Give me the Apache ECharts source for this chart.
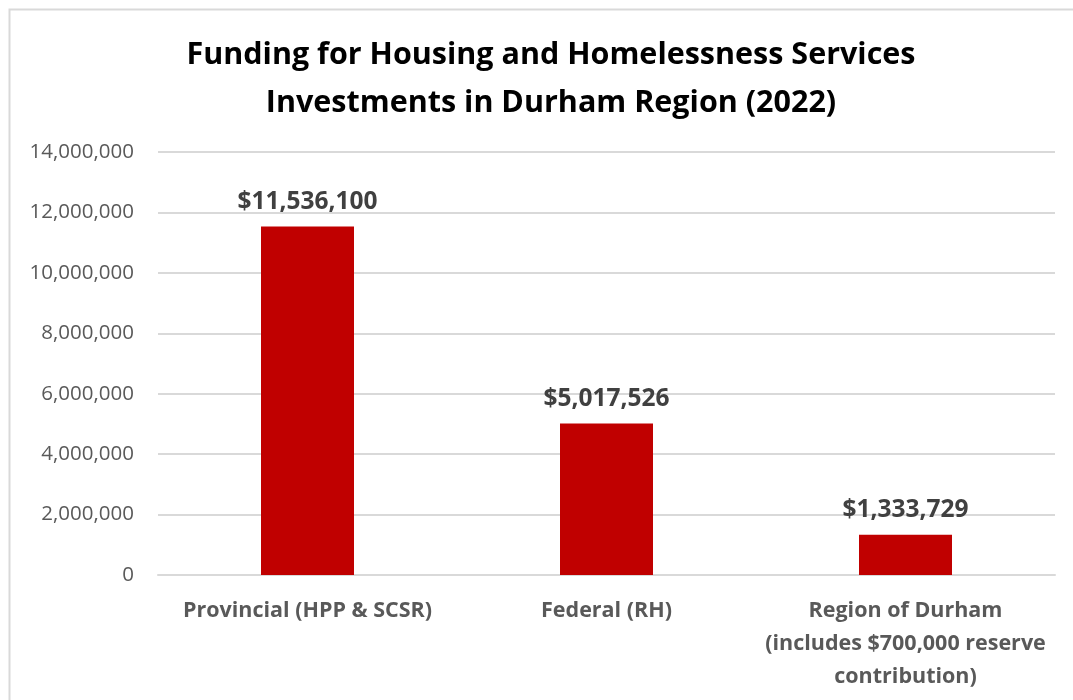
<!DOCTYPE html>
<html><head><meta charset="utf-8">
<script src="https://cdn.jsdelivr.net/npm/echarts@6/dist/echarts.min.js"></script>
<style>html,body{margin:0;padding:0;background:#fff}#c{width:1073px;height:700px}</style>
</head><body><div id="c"></div>
<script>
const categories = ['Provincial (HPP & SCSR)', 'Federal (RH)', 'Region of Durham\n(includes $700,000 reserve\ncontribution)'];
const values = [11536100, 5017526, 1333729];
const yTicks = { min: 0, max: 14000000, interval: 2000000 };
const titleText = 'Funding for Housing and Homelessness Services\nInvestments in Durham Region (2022)';

const fmt = v => v.toLocaleString('en-US');
const chart = echarts.init(document.getElementById('c'));
chart.setOption({
  animation: false,
  backgroundColor: '#fff',
  graphic: [{ type: 'rect', shape: { x: 9.5, y: 9.5, width: 1080, height: 720 }, style: { fill: 'none', stroke: '#d9d9d9', lineWidth: 2 } }],
  title: {
    text: titleText, left: 546, top: 26, textAlign: 'center',
    textStyle: { fontFamily: 'Open Sans', fontWeight: 'bold', fontSize: 30.5, color: '#000', lineHeight: 48 }
  },
  grid: { left: 158, right: 18, top: 152, bottom: 125 },
  xAxis: {
    type: 'category', data: categories,
    axisLine: { lineStyle: { color: '#d9d9d9', width: 2 } },
    axisTick: { show: false },
    axisLabel: { interval: 0, margin: 19, fontFamily: 'Open Sans', fontWeight: 'bold', fontSize: 21.5, color: '#595959', lineHeight: 33 }
  },
  yAxis: {
    type: 'value', min: yTicks.min, max: yTicks.max, interval: yTicks.interval,
    axisLine: { show: false }, axisTick: { show: false },
    splitLine: { lineStyle: { color: '#d9d9d9', width: 2 } },
    axisLabel: { margin: 24, fontFamily: 'Open Sans', fontSize: 20.5, color: '#595959', formatter: v => fmt(v) }
  },
  series: [{
    type: 'bar', data: values, barWidth: 93,
    itemStyle: { color: '#c00000' },
    label: { show: true, position: 'top', distance: 12, fontFamily: 'Open Sans', fontWeight: 'bold', fontSize: 24.5, color: '#404040', formatter: p => '$' + fmt(p.value) }
  }]
});
</script></body></html>
